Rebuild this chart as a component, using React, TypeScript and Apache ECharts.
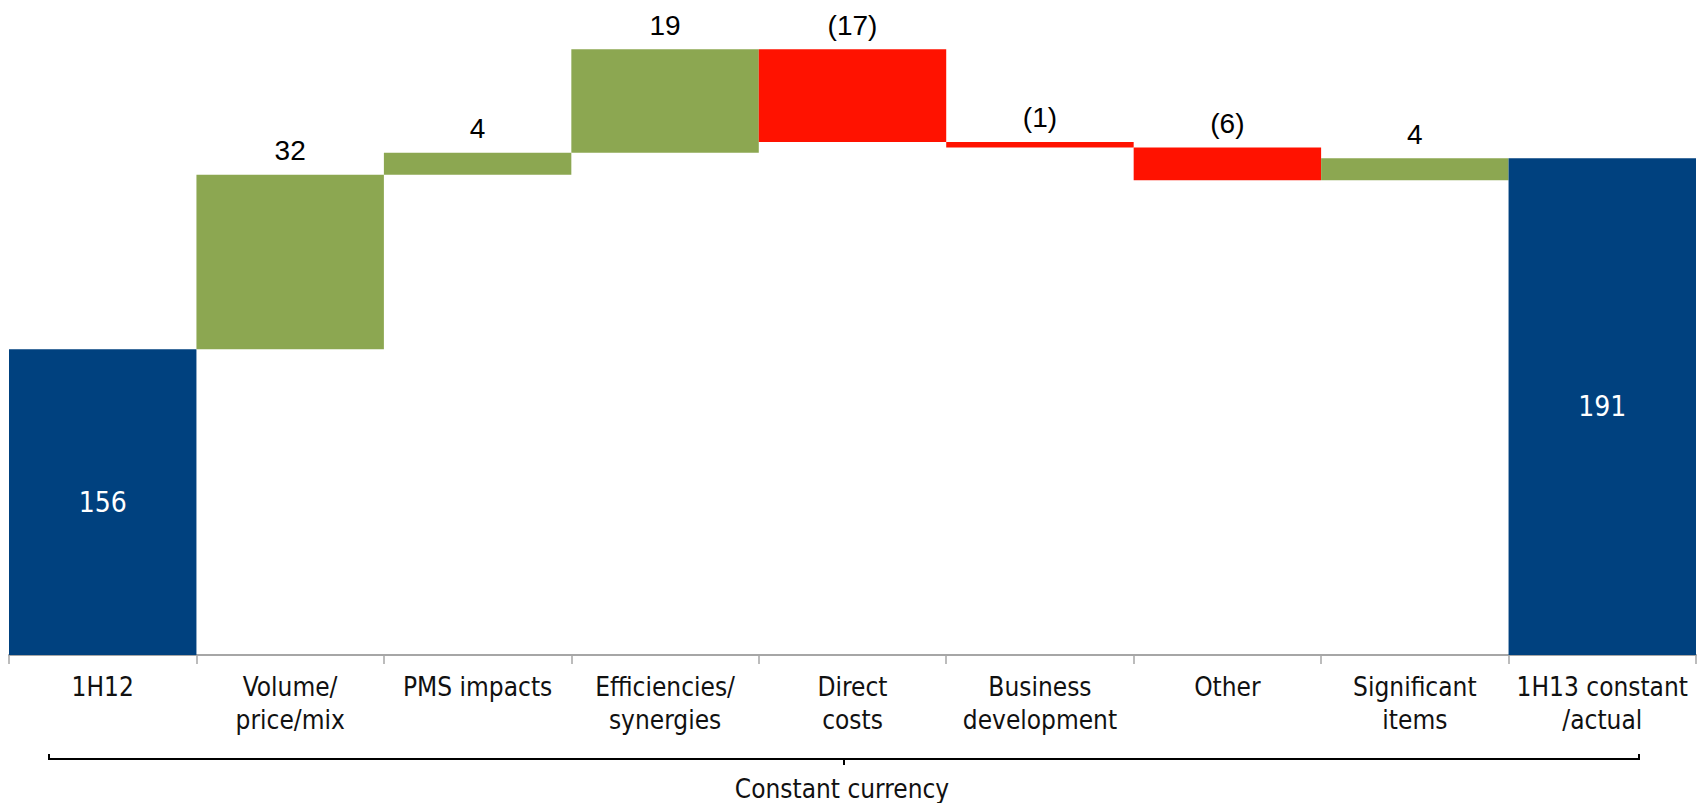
import React, { useEffect, useRef } from "react";
import * as echarts from "echarts";

const categories = [
  "1H12",
  "Volume/\nprice/mix",
  "PMS impacts",
  "Efficiencies/\nsynergies",
  "Direct\ncosts",
  "Business\ndevelopment",
  "Other",
  "Significant\nitems",
  "1H13 constant\n/actual",
];
const startTotal = 156;
const deltas = [32, 4, 19, -17, -1, -6, 4];
const endTotal = 191;
const bracketLabel = "Constant currency";

const BLUE = "#00417F";
const GREEN = "#8CA751";
const RED = "#FF1200";
const LABEL_FONT = "DejaVu Sans Condensed, DejaVu Sans";

export default function App() {
  const ref = useRef<HTMLDivElement>(null);
  useEffect(() => {
    if (!ref.current) return;
    const chart = echarts.init(ref.current, undefined, { renderer: "svg" });

    const baseData: number[] = [];
    const valueData: any[] = [];
    const totalLabel = {
      show: true,
      position: "inside",
      color: "#ffffff",
      fontFamily: LABEL_FONT,
      fontSize: 28,
    };
    const deltaLabel = (v: number) => ({
      show: true,
      position: "top",
      distance: 10,
      color: "#000000",
      fontFamily: "Liberation Sans, Arial",
      fontSize: 28,
      formatter: v < 0 ? `(${Math.abs(v)})` : `${v}`,
    });

    baseData.push(0);
    valueData.push({ value: startTotal, itemStyle: { color: BLUE }, label: totalLabel });
    let running = startTotal;
    deltas.forEach((d) => {
      const next = running + d;
      baseData.push(Math.min(running, next));
      valueData.push({
        value: Math.abs(d),
        itemStyle: { color: d >= 0 ? GREEN : RED },
        label: deltaLabel(d),
      });
      running = next;
    });
    baseData.push(0);
    valueData.push({ value: endTotal, itemStyle: { color: BLUE }, label: totalLabel });

    chart.setOption({
      animation: false,
      grid: { left: 9, right: 7, top: 0, bottom: 148, containLabel: false },
      xAxis: {
        type: "category",
        data: categories,
        axisLine: { lineStyle: { color: "#A6A6A6", width: 2 } },
        axisTick: { show: true, length: 9, lineStyle: { color: "#A6A6A6", width: 1.5 } },
        axisLabel: {
          interval: 0,
          color: "#111111",
          fontFamily: LABEL_FONT,
          fontSize: 26,
          lineHeight: 33,
          margin: 15,
        },
      },
      yAxis: {
        type: "value",
        min: 100,
        max: 220,
        show: false,
        splitLine: { show: false },
      },
      series: [
        {
          type: "bar",
          stack: "w",
          data: baseData,
          itemStyle: { color: "transparent" },
          barCategoryGap: "0%",
          silent: true,
        },
        {
          type: "bar",
          stack: "w",
          data: valueData,
          barCategoryGap: "0%",
        },
      ],
      graphic: [
        {
          type: "polyline",
          shape: { points: [[49, 754], [49, 759], [1639, 759], [1639, 754]] },
          style: { stroke: "#000000", lineWidth: 2, fill: null },
        },
        {
          type: "line",
          shape: { x1: 844, y1: 759, x2: 844, y2: 765 },
          style: { stroke: "#000000", lineWidth: 2 },
        },
        {
          type: "text",
          x: 842,
          y: 789,
          style: {
            text: bracketLabel,
            fill: "#111111",
            font: "26px 'DejaVu Sans Condensed', 'DejaVu Sans'",
            align: "center",
            verticalAlign: "middle",
          },
        },
      ],
    });
    return () => chart.dispose();
  }, []);
  return (
    <div
      ref={ref}
      style={{ position: "absolute", left: 0, top: 0, width: 1703, height: 803, background: "#ffffff" }}
    />
  );
}
